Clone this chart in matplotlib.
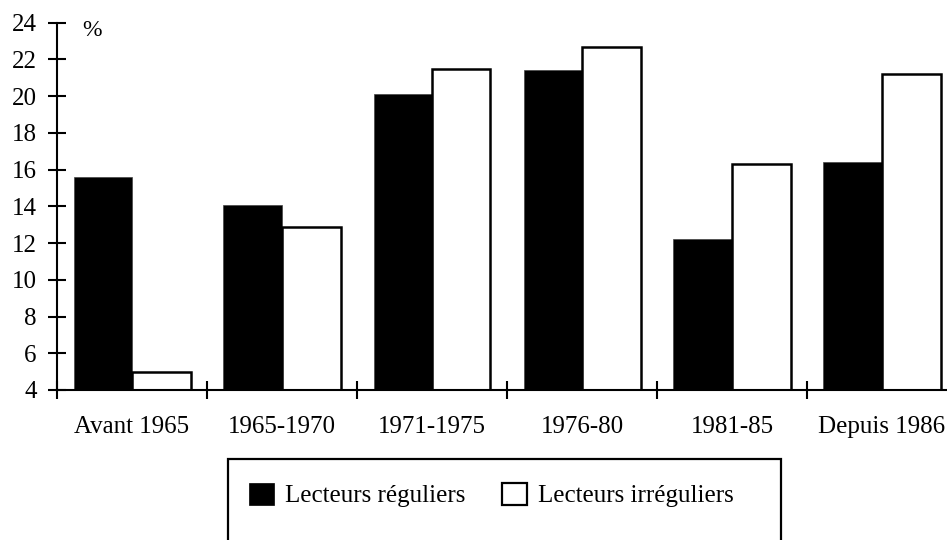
import numpy as np
import matplotlib
matplotlib.use("Agg")
import matplotlib.pyplot as plt
from matplotlib.patches import Patch, Rectangle

# Data
categories = ["Avant 1965", "1965-1970", "1971-1975", "1976-80", "1981-85", "Depuis 1986"]
reguliers = [15.6, 14.1, 20.1, 21.4, 12.2, 16.4]
irreguliers = [5.0, 12.9, 21.5, 22.7, 16.3, 21.2]
series_labels = ["Lecteurs réguliers", "Lecteurs irréguliers"]


def main():
    plt.rcParams['font.family'] = ['Liberation Serif', 'DejaVu Serif']
    plt.rcParams['font.size'] = 18

    fig = plt.figure(figsize=(9.47, 5.40), dpi=100)
    # axes run slightly past the right edge, like in the original
    ax = fig.add_axes([57 / 947, 1 - 390 / 540, 900 / 947, (390 - 22.7) / 540])

    centers = np.arange(len(categories)) + 0.5
    w = 0.39
    ax.bar(centers - w / 2, reguliers, w, color="black", edgecolor="#444444", linewidth=0.5)
    ax.bar(centers + w / 2, irreguliers, w, color="white", edgecolor="black", linewidth=1.8)

    ax.set_xlim(0, len(categories))
    ax.set_ylim(4, 24)
    ax.set_yticks(np.arange(4, 25, 2))

    # category boundaries carry the ticks, labels sit in between
    ax.set_xticks(np.arange(len(categories) + 1))
    ax.set_xticklabels([])
    ax.set_xticks(centers, minor=True)
    ax.set_xticklabels(categories, minor=True)

    for s in ["top", "right"]:
        ax.spines[s].set_visible(False)
    for s in ["left", "bottom"]:
        ax.spines[s].set_linewidth(1.5)

    ax.tick_params(axis="both", which="major", direction="inout", length=13, width=1.5)
    ax.tick_params(axis="y", which="major", pad=8)
    ax.tick_params(axis="x", which="minor", length=0, pad=19)

    fig.text(92 / 947, 1 - 30 / 540, "%", ha="center", va="center", fontsize=17)

    # legend box (its bottom runs off the figure)
    fig.patches.append(Rectangle((228 / 947, -0.05), (781 - 228) / 947, 0.05 + 1 - 459 / 540,
                                 transform=fig.transFigure, fill=False,
                                 edgecolor="black", linewidth=1.6, clip_on=False))
    handles = [Patch(facecolor="black", edgecolor="black", linewidth=0.5),
               Patch(facecolor="white", edgecolor="black", linewidth=1.6)]
    fig.legend(handles, series_labels, loc="center left",
               bbox_to_anchor=(249 / 947, 1 - 495 / 540), ncol=2, frameon=False,
               borderpad=0, borderaxespad=0, handlelength=1.0, handleheight=1.0,
               handletextpad=0.45, columnspacing=1.45, fontsize=18)

    fig.savefig("out.png", dpi=100)
    plt.close(fig)


if __name__ == '__main__':
    main()
